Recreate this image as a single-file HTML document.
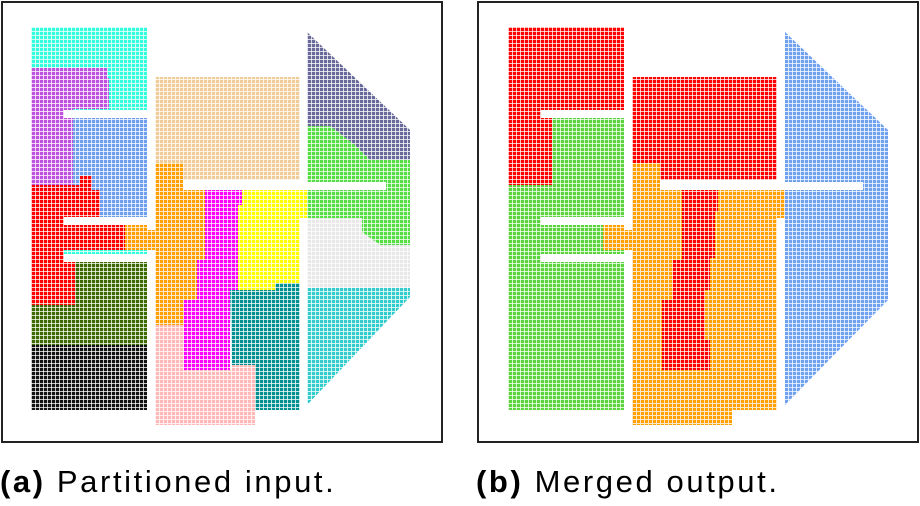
<!DOCTYPE html>
<html><head><style>
html,body{margin:0;padding:0;background:#fff;width:920px;height:506px;overflow:hidden}
.cap{position:absolute;top:464px;font-family:"Liberation Sans",sans-serif;font-size:31px;letter-spacing:2.6px;color:#000;white-space:nowrap;line-height:36px}
</style></head><body>
<svg width="920" height="450" style="position:absolute;left:0;top:0">
<defs>
<pattern id="g" x="31" y="27" width="4" height="4" patternUnits="userSpaceOnUse">
<rect x="0" y="0" width="4" height="1" fill="#fff" opacity="0.75"/>
<rect x="0" y="0" width="1" height="4" fill="#fff" opacity="0.75"/>
</pattern>
</defs>
<rect x="2" y="2" width="440" height="440" fill="#fff" stroke="#222" stroke-width="2"/>
<rect x="478" y="2" width="440" height="440" fill="#fff" stroke="#222" stroke-width="2"/>
<!-- LEFT -->
<rect x="31" y="27" width="116" height="383" fill="#33ffdd"/>
<path d="M31 68H107V78H109V109H73V185H31Z" fill="#c050e0"/>
<rect x="73" y="118" width="74" height="99" fill="#6f9ef0"/>
<path d="M31 185H80V176H92V190H100V217H64V225H130V250H64V254H75V305H31Z" fill="#ff0000"/>
<path d="M75 262H147V345H31V305H75Z" fill="#3a6a00"/>
<rect x="31" y="345" width="116" height="65" fill="#111"/>
<rect x="155" y="77" width="145" height="103" fill="#f0cc98"/>
<path d="M155 163H183V188H205V260H197V300H184V325H155V250H125V225H155Z" fill="#ffa000"/>
<path d="M205 188H242V205H238V290H230V370H184V300H197V260H205Z" fill="#ff00ff"/>
<path d="M242 188H336V218H300V283H275V290H238V205H242Z" fill="#ffff00"/>
<path d="M230 290H275V283H300V410H255V365H232Z" fill="#009090"/>
<path d="M155 325H184V370H232V365H255V425H155Z" fill="#ffb8b8"/>
<path d="M307 32L410 130V160H370L355 145L330 126H307Z" fill="#6a6a9a"/>
<path d="M307 126H330L355 145L370 160H410V245H380L362 232V218H307Z" fill="#55dd44"/>
<path d="M307 218H362V232L380 245H410V290H307Z" fill="#e8e8e8"/>
<path d="M307 288H410V297L307 405Z" fill="#33cccc"/>
<rect x="31" y="27" width="380" height="400" fill="url(#g)"/>
<rect x="64" y="110" width="84" height="8" fill="#fff"/>
<rect x="64" y="217" width="91" height="8" fill="#fff"/>
<rect x="64" y="254" width="91" height="8" fill="#fff"/>
<rect x="183" y="182" width="203" height="8" fill="#fff"/>
<rect x="147" y="20" width="8" height="210" fill="#fff"/>
<rect x="147" y="250" width="8" height="4" fill="#fff"/>
<rect x="147" y="262" width="8" height="170" fill="#fff"/>
<rect x="300" y="20" width="7" height="168" fill="#fff"/>
<rect x="300" y="218" width="7" height="212" fill="#fff"/>
<!-- RIGHT -->
<path d="M508 27H624V118H552V185H508Z" fill="#ff0000"/>
<path d="M552 118H624V410H508V185H552Z" fill="#5ad43c"/>
<rect x="603" y="225" width="30" height="25" fill="#ffa000"/>
<rect x="632" y="77" width="145" height="103" fill="#ff0000"/>
<path d="M632 163H660V188H814V218H777V410H732V425H632Z" fill="#ffa000"/>
<path d="M682 188H718V212H715V258H710V290H705V340H710V370H662V300H673V260H682Z" fill="#ff0000"/>
<path d="M785 32L888 130V300L785 405Z" fill="#70a0f0"/>
<pattern id="g2" x="508" y="27" width="4" height="4" patternUnits="userSpaceOnUse">
<rect x="0" y="0" width="4" height="1" fill="#fff" opacity="0.75"/>
<rect x="0" y="0" width="1" height="4" fill="#fff" opacity="0.75"/>
</pattern>
<rect x="508" y="27" width="380" height="400" fill="url(#g2)"/>
<rect x="541" y="110" width="84" height="8" fill="#fff"/>
<rect x="541" y="217" width="91" height="8" fill="#fff"/>
<rect x="541" y="254" width="91" height="8" fill="#fff"/>
<rect x="660" y="182" width="203" height="8" fill="#fff"/>
<rect x="624" y="20" width="8" height="210" fill="#fff"/>
<rect x="624" y="250" width="8" height="4" fill="#fff"/>
<rect x="624" y="262" width="8" height="170" fill="#fff"/>
<rect x="777" y="20" width="8" height="168" fill="#fff"/>
<rect x="777" y="218" width="8" height="212" fill="#fff"/>
</svg>
<div class="cap" style="left:0px"><b>(a)</b> Partitioned input.</div>
<div class="cap" style="left:476px"><b>(b)</b> Merged output.</div>
</body></html>
